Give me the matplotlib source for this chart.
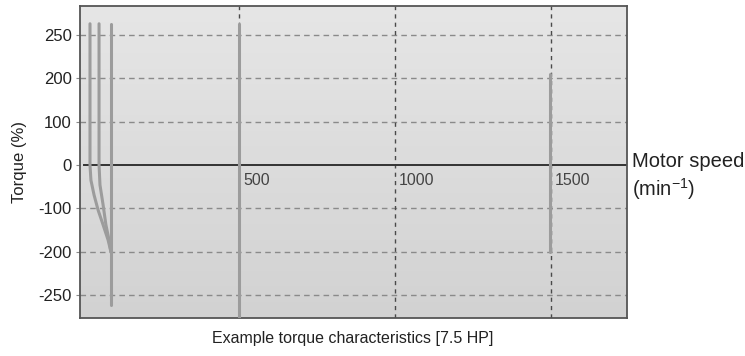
import numpy as np
import matplotlib
matplotlib.use("Agg")
import matplotlib.pyplot as plt

plt.rcParams['font.family'] = ['Liberation Sans', 'DejaVu Sans']

# y axis is not linear: the tick values sit at equal spacing
tick_vals = [-250, -200, -100, 0, 100, 200, 250]
tick_pos = [-3, -2, -1, 0, 1, 2, 3]
speed_ticks = [500, 1000, 1500]

# torque curves (speed in min-1, torque in %)
c1_speed = [24, 24, 27, 37, 50, 66, 82, 91]
c1_torque = [263, 0, -35, -69, -104, -138, -173, -200]
c2_speed = [53, 53, 56, 66, 75, 85, 91]
c2_torque = [263, 0, -46, -92, -138, -173, -200]
c3_speed = [91, 91]
c3_torque = [263, -262]
c4_speed = [500, 500]
c4_torque = [263, -300]
c5_speed = [1497, 1497]
c5_torque = [205, -200]


def to_pos(t):
    t = np.asarray(t, dtype=float)
    p = np.interp(t, tick_vals, tick_pos)
    p = np.where(t > 250, 3 + (t - 250) / 50, p)
    p = np.where(t < -250, -3 + (t + 250) / 50, p)
    return p


fig = plt.figure(figsize=(7.45, 3.56), dpi=100)
ax = fig.add_axes([0.1074, 0.1067, 0.7342, 0.8764])

# light grey gradient background
grad = np.linspace(0, 1, 256).reshape(-1, 1)
ax.imshow(grad, extent=[0, 1, 0, 1], transform=ax.transAxes, aspect='auto',
          cmap=matplotlib.colors.LinearSegmentedColormap.from_list('bg', ['#e6e6e6', '#d2d2d2']),
          zorder=0)

ax.set_xlim(-8, 1745)
ax.set_ylim(-3.53, 3.67)

for p in tick_pos:
    if p != 0:
        ax.axhline(p, color='#8a8a8a', lw=1.0, ls=(0, (4, 3)), zorder=1)
for s in speed_ticks:
    ax.axvline(s, color='#4a4a4a', lw=1.0, ls=(0, (3, 3)), zorder=1)
ax.axhline(0, xmin=0.008, color='#333333', lw=1.4, zorder=2)

line_kw = dict(color='#9c9c9c', lw=2.2, solid_capstyle='round', zorder=3)
for sp, tq in [(c1_speed, c1_torque), (c2_speed, c2_torque), (c3_speed, c3_torque),
               (c4_speed, c4_torque), (c5_speed, c5_torque)]:
    ax.plot(sp, to_pos(tq), **line_kw)

ax.set_yticks(tick_pos)
ax.set_yticklabels([str(v) for v in tick_vals], fontsize=12, color='#222222')
ax.tick_params(axis='y', length=3, color='#888888', pad=3)
ax.set_xticks([])

for s in speed_ticks:
    ax.text(s + 14, -0.18, str(s), fontsize=11.5, color='#444444', va='top', ha='left')

for sp in ax.spines.values():
    sp.set_color('#555555')
    sp.set_linewidth(1.3)

ax.set_ylabel('Torque (%)', fontsize=12, color='#222222', labelpad=8)
fig.text(0.848, 0.545, 'Motor speed', fontsize=14.5, color='#222222', va='center', ha='left')
fig.text(0.848, 0.47, '(min$^{\\mathregular{-1}}$)', fontsize=14.5, color='#222222', va='center', ha='left')
fig.text(0.474, 0.05, 'Example torque characteristics [7.5 HP]', fontsize=11.5,
         color='#222222', ha='center', va='center')

fig.savefig('out.png', dpi=100)
